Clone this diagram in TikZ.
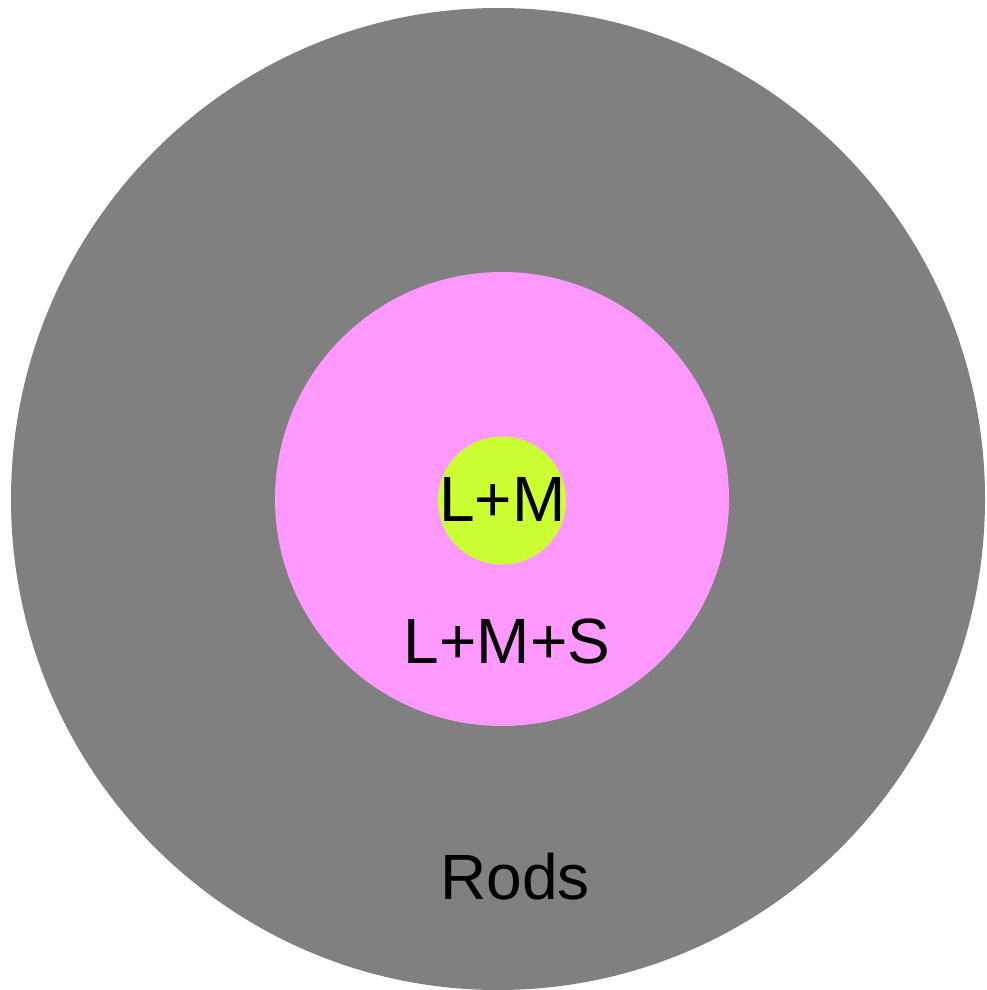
\documentclass[tikz,border=0pt]{standalone}
\usepackage{fontspec}
\setmainfont{Liberation Sans}
\definecolor{rodgray}{HTML}{808080}
\definecolor{lmspink}{HTML}{FF99FF}
\definecolor{lmgreen}{HTML}{CCFF33}
\begin{document}
\begin{tikzpicture}[x=1pt,y=-1pt,
  disc/.style={circle,inner sep=0pt,outer sep=0pt,draw=none},
  lbl/.style={anchor=base,inner sep=0pt,outer sep=0pt,text=black,font=\fontsize{64}{77}\selectfont}]
  \useasboundingbox (0,0) rectangle (986,990);
  % outer field: rods
  \fill[rodgray] (498,499) ellipse [x radius=487, y radius=491];
  \coordinate (rodsc) at (498,499);
  % middle disc: L+M+S
  \node[disc,fill=lmspink,minimum size=454pt] (lms) at (502,499) {};
  % inner disc: L+M
  \node[disc,fill=lmgreen,minimum size=128pt] (lm) at (502,500.5) {};
  % labels
  \node[lbl] (lmtext) at (502.5,521.5) {L+M};
  \node[lbl] (lmstext) at (507,663) {L+M+S};
  \node[lbl] (rodstext) at (515,899) {Rods};
\end{tikzpicture}
\end{document}
